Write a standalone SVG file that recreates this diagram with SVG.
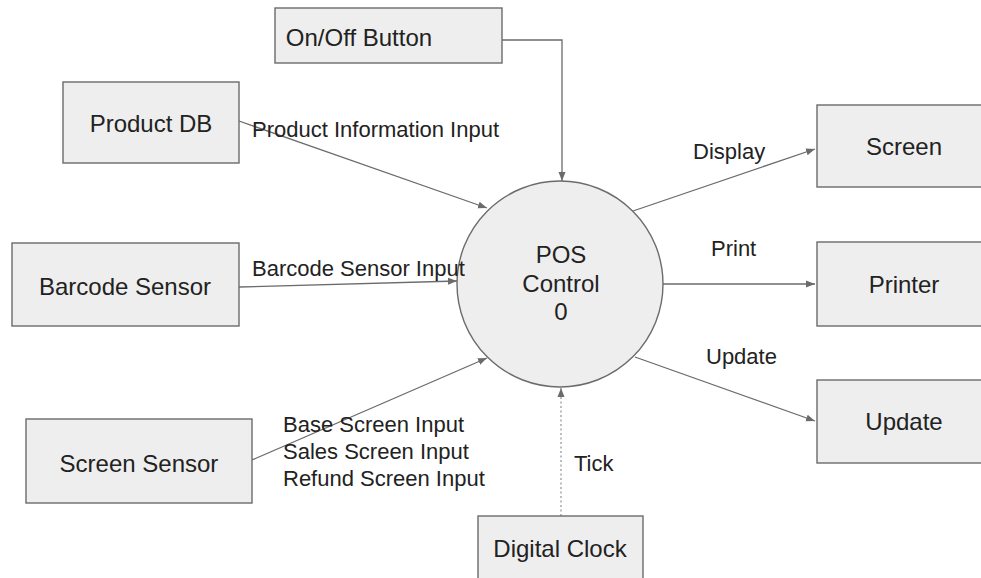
<svg xmlns="http://www.w3.org/2000/svg" width="981" height="578" viewBox="0 0 981 578">
<defs>
<style>
.box{fill:#eeeeee;stroke:#6b6b6b;stroke-width:1.4}
.nt{font-family:"Liberation Sans",Arial,sans-serif;font-size:24px;fill:#222;text-anchor:middle}
.lb{font-family:"Liberation Sans",Arial,sans-serif;font-size:22px;fill:#222}
.cn{fill:none;stroke:#6b6b6b;stroke-width:1.3}
.dot{stroke-dasharray:2 2.5;stroke:#999}
</style>
<marker id="ah" markerUnits="userSpaceOnUse" markerWidth="10" markerHeight="8" refX="9" refY="4" orient="auto">
<path d="M0,0.5 L9,4 L0,7.5 Z" fill="#6b6b6b"/>
</marker>
</defs>
<rect width="981" height="578" fill="#ffffff"/>
<g id="connectors">
<path class="cn" d="M502,40 H562 V181" marker-end="url(#ah)"/>
<path class="cn" d="M239,121 L487,208" marker-end="url(#ah)"/>
<path class="cn" d="M239,287 L457,281" marker-end="url(#ah)"/>
<path class="cn" d="M252,460 L487,358" marker-end="url(#ah)"/>
<path class="cn" d="M633,211 L815,149" marker-end="url(#ah)"/>
<path class="cn" d="M663,284 L815,284" marker-end="url(#ah)"/>
<path class="cn" d="M635,357 L815,421" marker-end="url(#ah)"/>
<path class="cn dot" d="M561,516 L561,388" marker-end="url(#ah)"/>
</g>
<g id="onoff">
<rect class="box" x="275" y="8" width="227" height="55"/>
<text class="nt" x="359" y="46">On/Off Button</text>
</g>
<g id="productdb">
<rect class="box" x="63" y="82" width="176" height="81"/>
<text class="nt" x="151" y="132">Product DB</text>
</g>
<g id="barcode">
<rect class="box" x="12" y="243" width="227" height="83"/>
<text class="nt" x="125" y="295">Barcode Sensor</text>
</g>
<g id="screensensor">
<rect class="box" x="26" y="419" width="226" height="84"/>
<text class="nt" x="139" y="472">Screen Sensor</text>
</g>
<g id="pos">
<circle class="box" cx="560" cy="284" r="103"/>
<text class="nt" x="561" y="263">POS</text>
<text class="nt" x="561" y="292">Control</text>
<text class="nt" x="561" y="320">0</text>
</g>
<g id="screen">
<rect class="box" x="817" y="105" width="180" height="82"/>
<text class="nt" x="904" y="155">Screen</text>
</g>
<g id="printer">
<rect class="box" x="817" y="242" width="180" height="84"/>
<text class="nt" x="904" y="293">Printer</text>
</g>
<g id="update">
<rect class="box" x="817" y="380" width="180" height="83"/>
<text class="nt" x="904" y="430">Update</text>
</g>
<g id="clock">
<rect class="box" x="478" y="516" width="165" height="80"/>
<text class="nt" x="560" y="557">Digital Clock</text>
</g>
<g id="connector-labels">
<text class="lb" x="252" y="137">Product Information Input</text>
<text class="lb" x="252" y="276">Barcode Sensor Input</text>
<text class="lb" x="283" y="432">Base Screen Input</text>
<text class="lb" x="283" y="459">Sales Screen Input</text>
<text class="lb" x="283" y="486">Refund Screen Input</text>
<text class="lb" x="693" y="159">Display</text>
<text class="lb" x="711" y="256">Print</text>
<text class="lb" x="706" y="364">Update</text>
<text class="lb" x="574" y="471">Tick</text>
</g>
</svg>
